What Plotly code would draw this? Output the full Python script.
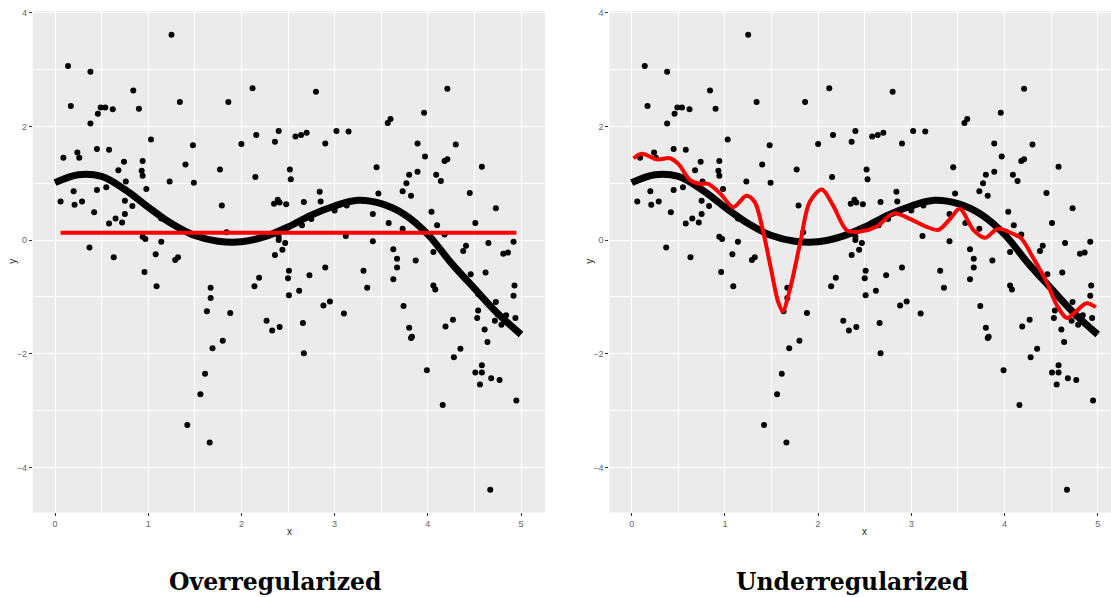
import plotly.graph_objects as go

# ---------------- data ----------------
pts_x = [1.25,0.14,0.38,0.84,0.17,1.34,0.49,0.54,0.62,0.46,0.90,0.38,1.03,1.48,0.09,0.24,0.26,0.45,0.58,0.74,
         0.94,0.68,0.93,0.94,1.40,1.23,1.49,0.76,0.20,0.45,0.55,0.98,0.06,0.21,0.29,0.75,0.83,0.42,0.65,0.75,
         0.72,0.58,1.14,1.46,0.94,0.97,1.14,0.37,0.63,1.08,1.29,1.32,
         0.96,1.09,1.67,1.67,1.63,1.61,1.56,1.42,1.66,
         2.36,2.44,2.51,2.19,2.50,2.73,2.90,3.31,3.35,2.14,2.51,2.62,2.88,2.95,3.10,1.88,2.27,2.33,2.41,2.66,
         1.80,1.69,2.67,
         2.12,1.86,2.80,2.16,2.00,2.40,2.36,2.58,2.64,2.70,2.90,3.02,3.15,1.77,2.15,2.52,2.53,3.45,3.47,1.79,
         2.35,2.39,2.41,2.48,2.67,2.84,2.85,3.00,3.13,3.41,2.65,2.75,1.84,2.40,2.40,2.47,3.12,3.41,
         4.21,3.96,3.57,3.60,3.89,4.30,3.97,4.18,4.21,4.58,3.89,3.80,4.09,4.14,3.77,3.73,3.82,4.45,4.73,4.04,
         3.58,4.10,4.51,3.73,4.18,4.65,4.92,4.41,4.38,4.06,3.63,3.67,3.87,4.81,4.86,
         3.67,3.63,4.06,4.08,4.46,4.62,4.93,4.92,3.74,4.54,4.62,4.73,4.54,4.53,4.75,4.84,4.72,4.79,4.94,4.27,
         4.19,3.80,3.83,3.82,4.61,4.64,4.35,4.28,4.58,4.51,4.58,4.68,4.77,4.56,3.99,4.95,4.16,4.67]
pts_y = [3.61,3.06,2.96,2.63,2.36,2.43,2.33,2.33,2.30,2.22,2.31,2.05,1.77,1.67,1.45,1.54,1.45,1.60,1.59,1.38,
         1.39,1.23,1.22,1.13,1.33,1.03,1.01,1.03,0.86,0.88,0.93,0.90,0.68,0.62,0.68,0.69,0.60,0.49,0.38,0.46,
         0.31,0.29,0.38,0.10,0.06,0.02,-0.03,-0.13,-0.30,-0.25,-0.35,-0.30,
         -0.56,-0.81,-0.84,-1.02,-1.25,-2.35,-2.71,-3.25,-3.56,
         -0.26,-0.17,-0.54,-0.66,-0.67,-0.62,-0.48,-0.54,-0.84,-0.81,-0.97,-0.89,-1.15,-1.08,-1.29,-1.28,-1.42,-1.59,-1.53,-1.46,
         -1.77,-1.90,-1.99,
         2.67,2.43,2.61,1.85,1.69,1.92,1.73,1.82,1.85,1.89,1.70,1.92,1.91,1.24,1.11,1.24,1.07,1.28,0.82,0.61,
         0.64,0.71,0.66,0.63,0.67,0.85,0.68,0.52,0.61,0.46,0.26,0.37,0.14,0.06,0.00,-0.05,0.07,-0.02,
         2.66,2.24,2.06,2.13,1.70,1.68,1.47,1.39,1.42,1.29,1.20,1.15,1.15,1.04,1.00,0.86,0.78,0.83,0.56,0.50,
         0.30,0.26,0.30,0.20,0.10,-0.05,-0.03,-0.10,-0.19,-0.21,-0.16,-0.33,-0.36,-0.24,-0.22,
         -0.48,-0.69,-0.80,-0.87,-0.60,-0.57,-0.80,-0.98,-1.16,-0.95,-1.06,-1.09,-1.24,-1.37,-1.31,-1.32,-1.42,-1.49,-1.37,-1.40,
         -1.52,-1.54,-1.70,-1.72,-1.57,-1.79,-1.91,-2.06,-2.20,-2.33,-2.33,-2.43,-2.46,-2.54,-2.29,-2.82,-2.90,-4.39]

true_x = [0.00,0.25,0.50,0.75,1.00,1.25,1.50,1.75,2.00,2.25,2.50,2.75,3.00,3.25,3.50,3.75,4.00,4.25,4.50,4.75,5.00]
true_y = [1.01,1.15,1.12,0.89,0.58,0.29,0.08,-0.02,-0.03,0.06,0.23,0.44,0.60,0.70,0.64,0.45,0.10,-0.40,-0.85,-1.29,-1.66]

over_x = [0.06,4.95]
over_y = [0.13,0.13]

under_x = [0.02,0.11,0.27,0.41,0.50,0.63,0.73,0.82,0.95,1.09,1.23,1.32,1.41,1.50,1.57,1.62,1.70,1.81,1.91,2.04,
           2.16,2.31,2.45,2.63,2.81,2.99,3.17,3.29,3.42,3.52,3.67,3.79,3.93,4.08,4.18,4.31,4.45,4.56,4.67,4.77,
           4.88,4.98]
under_y = [1.44,1.52,1.42,1.44,1.34,1.05,0.99,0.99,0.82,0.58,0.78,0.67,0.15,-0.55,-1.08,-1.25,-0.85,-0.03,0.67,0.89,
           0.61,0.17,0.15,0.24,0.47,0.37,0.23,0.18,0.38,0.55,0.17,0.04,0.20,0.12,0.03,-0.32,-0.73,-1.14,-1.37,-1.25,
           -1.11,-1.18]

titles = ["Overregularized", "Underregularized"]
x_ticks = [0, 1, 2, 3, 4, 5]
y_ticks = [-4, -2, 0, 2, 4]

# ---------------- figure ----------------
W, H = 1111, 597
fig = go.Figure()

for i, (lx, ly) in enumerate([(over_x, over_y), (under_x, under_y)]):
    xa = "x" if i == 0 else "x2"
    ya = "y" if i == 0 else "y2"
    fig.add_trace(go.Scatter(x=pts_x, y=pts_y, mode="markers", xaxis=xa, yaxis=ya,
                             marker=dict(color="black", size=6, line=dict(width=0)),
                             showlegend=False, hoverinfo="skip"))
    fig.add_trace(go.Scatter(x=true_x, y=true_y, mode="lines", xaxis=xa, yaxis=ya,
                             line=dict(color="black", width=7, shape="spline", smoothing=1.0),
                             showlegend=False, hoverinfo="skip"))
    fig.add_trace(go.Scatter(x=lx, y=ly, mode="lines", xaxis=xa, yaxis=ya,
                             line=dict(color="#FF0000", width=4, shape="spline", smoothing=0.9),
                             showlegend=False, hoverinfo="skip"))

px_per_x = 93.2
px_per_y = 57.15
y_top, y_bot = 8, 512
y0_px = 238.3
yr = [(y0_px - y_bot) / px_per_y, (y0_px - y_top) / px_per_y]

def xaxis_cfg(left_px, right_px, zero_px):
    return dict(
        domain=[left_px / W, right_px / W],
        range=[(left_px - zero_px) / px_per_x, (right_px - zero_px) / px_per_x],
        tickvals=x_ticks, ticks="outside", ticklen=3, tickcolor="#333333", tickwidth=1,
        tickfont=dict(family="Liberation Sans", size=9, color="#666666"),
        showgrid=True, gridcolor="white", gridwidth=1.2, zeroline=False, showline=False,
        minor=dict(dtick=0.5, tick0=0, showgrid=True, gridcolor="white", gridwidth=0.6, ticks=""),
        fixedrange=True,
    )

def yaxis_cfg(anchor):
    return dict(
        domain=[1 - y_bot / H, 1 - y_top / H], range=yr, anchor=anchor,
        tickvals=y_ticks, ticks="outside", ticklen=3, tickcolor="#333333", tickwidth=1,
        tickfont=dict(family="Liberation Sans", size=9, color="#666666"),
        showgrid=True, gridcolor="white", gridwidth=1.2, zeroline=False, showline=False,
        minor=dict(dtick=1, tick0=0, showgrid=True, gridcolor="white", gridwidth=0.6, ticks=""),
        fixedrange=True,
    )

fig.update_layout(
    width=W, height=H,
    margin=dict(l=0, r=0, t=0, b=0),
    paper_bgcolor="white", plot_bgcolor="#EBEBEB",
    xaxis=dict(xaxis_cfg(32.7, 545, 55), anchor="y"),
    yaxis=yaxis_cfg("x"),
    xaxis2=dict(xaxis_cfg(609.4, 1111, 631.7), anchor="y2"),
    yaxis2=yaxis_cfg("x2"),
)

ann = []
for cx, t in zip([275.5, 852], titles):
    ann.append(dict(x=cx / W, y=1 - 581.5 / H, xref="paper", yref="paper", text="<b>" + t + "</b>",
                    showarrow=False, xanchor="center", yanchor="middle",
                    font=dict(family="DejaVu Serif", size=23.5, color="black")))
for cx in [289, 864.3]:
    ann.append(dict(x=cx / W, y=1 - 531.5 / H, xref="paper", yref="paper", text="x", showarrow=False,
                    xanchor="center", yanchor="middle",
                    font=dict(family="Liberation Sans", size=10, color="#222222")))
for cx in [13, 590]:
    ann.append(dict(x=cx / W, y=1 - 260 / H, xref="paper", yref="paper", text="y", showarrow=False,
                    xanchor="center", yanchor="middle", textangle=-90,
                    font=dict(family="Liberation Sans", size=10, color="#222222")))
fig.update_layout(annotations=ann)

fig.write_html(
    "out.html",
    config={"displayModeBar": False},
    post_script="document.body.style.margin='0';document.body.style.padding='0';"
                "document.documentElement.style.overflow='hidden';",
)
